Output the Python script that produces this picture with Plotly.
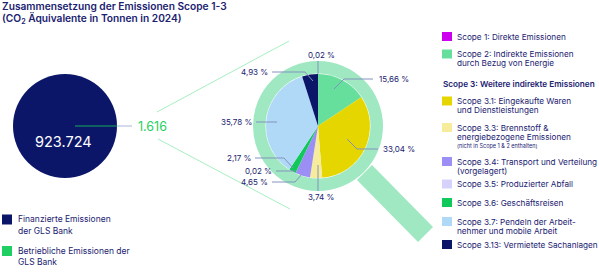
import plotly.graph_objects as go

# ---------------- data ----------------
scope_labels = [
    "Scope 1: Direkte Emissionen",
    "Scope 2: Indirekte Emissionen<br>durch Bezug von Energie",
    "Scope 3.1: Eingekaufte Waren<br>und Dienstleistungen",
    "Scope 3.3: Brennstoff &<br>energiebezogene Emissionen",
    "Scope 3.4: Transport und Verteilung<br>(vorgelagert)",
    "Scope 3.5: Produzierter Abfall",
    "Scope 3.6: Geschäftsreisen",
    "Scope 3.7: Pendeln der Arbeit-<br>nehmer und mobile Arbeit",
    "Scope 3.13: Vermietete Sachanlagen",
]
scope_shares = [0.02, 15.66, 33.04, 3.74, 4.65, 0.02, 2.17, 35.78, 4.93]
scope_colors = ["#cc00ee", "#66de9c", "#e6d600", "#f6ec9c", "#9b8ff6",
                "#d7d2fb", "#10c95a", "#b0d9f7", "#0b1668"]

total_labels = ["Finanzierte Emissionen<br>der GLS Bank",
                "Betriebliche Emissionen der<br>GLS Bank"]
total_values = [923724, 1616]
total_colors = ["#0b1668", "#1fcf62"]

title_lines = ["Zusammensetzung der Emissionen Scope 1-3",
               "(CO<sub>2</sub> Äquivalente in Tonnen in 2024)"]
scope3_header = "Scope 3: Weitere indirekte Emissionen"
scope33_note = "(nicht in Scope 1 & 2 enthalten)"

W, H = 599, 274
NAVY = "#1b2270"
FONT = "Inter"
LEADER = "#8393bd"
RING = "#9fe8c2"

def de_num(v):
    return f"{v:,}".replace(",", ".")

def de_pct(v):
    return f"{v:.2f}".replace(".", ",") + " %"

fig = go.Figure()

# invisible trace to establish axes
fig.add_trace(go.Scatter(x=[0, W], y=[0, H], mode="markers",
                         marker=dict(opacity=0), showlegend=False, hoverinfo="skip"))

# pie (magnified)
pcx, pcy, pr = 318, 126, 52
fig.add_trace(go.Pie(
    values=scope_shares, labels=[l.replace("<br>", " ") for l in scope_labels],
    marker=dict(colors=scope_colors, line=dict(width=0)),
    sort=False, direction="clockwise", rotation=0,
    textinfo="none", hoverinfo="label+percent", showlegend=False,
    domain=dict(x=[(pcx - pr) / W, (pcx + pr) / W],
                y=[(H - pcy - pr) / H, (H - pcy + pr) / H]),
))

shapes = []
# magnifier handle
shapes.append(dict(type="path", layer="below", line=dict(width=0), fillcolor=RING,
                   path="M 357 180 L 372 165 L 433 227 L 418 242 Z"))
# magnifier ring
shapes.append(dict(type="circle", layer="below", line=dict(width=0), fillcolor=RING,
                   x0=pcx - 65, x1=pcx + 65, y0=pcy - 65, y1=pcy + 65))
shapes.append(dict(type="circle", layer="below", line=dict(width=0), fillcolor="white",
                   x0=pcx - pr - 0.5, x1=pcx + pr + 0.5, y0=pcy - pr - 0.5, y1=pcy + pr + 0.5))
# cone lines
shapes.append(dict(type="line", layer="below", line=dict(color="#a6efc1", width=1),
                   x0=157, y0=112, x1=289, y1=41))
shapes.append(dict(type="line", layer="below", line=dict(color="#a6efc1", width=1),
                   x0=158, y0=139, x1=290, y1=209))
# big circle
ccx, ccy, cr = 65, 126, 52
shapes.append(dict(type="circle", layer="below", line=dict(width=0), fillcolor=total_colors[0],
                   x0=ccx - cr, x1=ccx + cr, y0=ccy - cr, y1=ccy + cr))
shapes.append(dict(type="line", layer="above", line=dict(color="#17a85a", width=1),
                   x0=ccx + 10, y0=ccy, x1=ccx + cr, y1=ccy))
shapes.append(dict(type="line", layer="above", line=dict(color="#aab4d8", width=1),
                   x0=ccx + cr, y0=ccy, x1=132, y1=ccy))

# leader lines (paths) and label positions for each slice
leaders = [
    "M 318 74 L 318 61",
    "M 334 89 L 344 79 L 373 79",
    "M 347 139 L 357 149 L 378 149",
    "M 318 165 L 318 191",
    "M 302 174 L 295 182 L 272 182",
    "M 295 171 L 276 171",
    "M 293 168 L 284 158 L 255 158",
    "M 277 122 L 256 122",
    "M 313 81 L 305 72 L 272 72",
]
label_pos = [
    (321, 55, "center"), (377, 79, "left"), (381, 149, "left"), (321, 197, "center"),
    (270, 182, "right"), (274, 171, "right"), (253, 158, "right"), (254, 122, "right"),
    (270, 72, "right"),
]
for p in leaders:
    shapes.append(dict(type="path", layer="above", path=p,
                       line=dict(color=LEADER, width=1)))

ann = []
for v, (x, y, a) in zip(scope_shares, label_pos):
    ann.append(dict(x=x, y=y, text=de_pct(v), xanchor=a, yanchor="middle",
                    showarrow=False, font=dict(family=FONT, size=8, color=NAVY)))

# totals
ann.append(dict(x=63, y=141, text=de_num(total_values[0]), showarrow=False,
                xanchor="center", yanchor="middle",
                font=dict(family=FONT, size=14.5, color="white")))
ann.append(dict(x=136, y=126, text=de_num(total_values[1]), showarrow=False,
                xanchor="left", yanchor="middle",
                font=dict(family=FONT, size=12.5, color=total_colors[1])))

# title
ann.append(dict(x=0, y=6, text=title_lines[0], showarrow=False, xanchor="left",
                yanchor="middle", font=dict(family=FONT, size=10.2, color=NAVY, weight=600)))
ann.append(dict(x=0, y=18.5, text=title_lines[1], showarrow=False, xanchor="left",
                yanchor="middle", font=dict(family=FONT, size=10.2, color=NAVY, weight=600)))

def add_lines(label, x, y0, step, size):
    for i, line in enumerate(label.split("<br>")):
        ann.append(dict(x=x, y=y0 + i * step, text=line, showarrow=False,
                        xanchor="left", yanchor="middle",
                        font=dict(family=FONT, size=size, color=NAVY)))

# left legend
left_sq_y = [219.5, 251]
for lab, col, y in zip(total_labels, total_colors, left_sq_y):
    shapes.append(dict(type="rect", layer="above", line=dict(width=0), fillcolor=col,
                       x0=2, x1=12, y0=y - 5, y1=y + 5))
    add_lines(lab, 15.5, y - 0.5, 11.5, 8.5)

# right legend
sq_y = [36.5, 54, 101, 127.5, 161.5, 184, 202.5, 221.5, 244.5]
for lab, col, y in zip(scope_labels, scope_colors, sq_y):
    shapes.append(dict(type="rect", layer="above", line=dict(width=0), fillcolor=col,
                       x0=442, x1=452, y0=y - 4.5, y1=y + 4.5))
    add_lines(lab, 455, y, 9, 8.2)
ann.append(dict(x=441, y=84, text=scope3_header, showarrow=False, xanchor="left",
                yanchor="middle", font=dict(family=FONT, size=8.2, color=NAVY, weight=600)))
ann.append(dict(x=455, y=145.5, text=scope33_note, showarrow=False, xanchor="left",
                yanchor="middle", font=dict(family=FONT, size=5.5, color=NAVY)))

fig.update_layout(
    width=W, height=H, margin=dict(l=0, r=0, t=0, b=0),
    paper_bgcolor="white", plot_bgcolor="white",
    xaxis=dict(range=[0, W], visible=False, fixedrange=True),
    yaxis=dict(range=[H, 0], visible=False, fixedrange=True),
    shapes=shapes, annotations=ann, showlegend=False,
)
fig.write_html("out.html")
